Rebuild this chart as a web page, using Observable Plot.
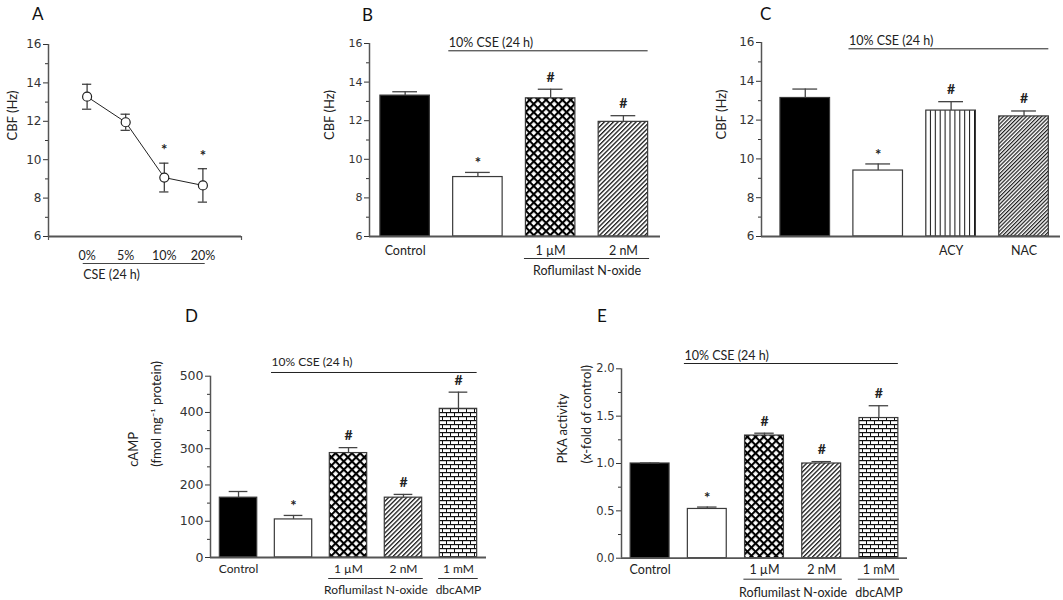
<!DOCTYPE html>
<html><head><meta charset="utf-8">
<script src="https://cdn.jsdelivr.net/npm/d3@7"></script>
<script src="https://cdn.jsdelivr.net/npm/@observablehq/plot@0.6"></script>
<style>
body{margin:0;background:#fff;}
#fig{position:relative;width:1063px;height:600px;overflow:hidden;background:#fff;color:#222;}
.letter{position:absolute;font-family:Lato,'Open Sans',sans-serif;font-size:17px;line-height:1;color:#111;}
</style>
</head><body>
<svg width="0" height="0" style="position:absolute">
 <defs>
  <pattern id="pCross" width="5.8" height="5.8" patternUnits="userSpaceOnUse" patternTransform="rotate(45)">
   <rect width="5.8" height="5.8" fill="#fff"/>
   <rect x="0" y="0" width="5.8" height="2.1" fill="#000"/>
   <rect x="0" y="0" width="2.1" height="5.8" fill="#000"/>
  </pattern>
  <pattern id="pHatch" width="3.2" height="3.2" patternUnits="userSpaceOnUse" patternTransform="rotate(45)">
   <rect width="3.2" height="3.2" fill="#fff"/>
   <rect x="0" y="0" width="1.3" height="3.2" fill="#1a1a1a"/>
  </pattern>
  <pattern id="pHatchDense" width="2.7" height="2.7" patternUnits="userSpaceOnUse" patternTransform="rotate(45)">
   <rect width="2.7" height="2.7" fill="#fff"/>
   <rect x="0" y="0" width="1.2" height="2.7" fill="#1a1a1a"/>
  </pattern>
  <pattern id="pVert" width="4.9" height="10" patternUnits="userSpaceOnUse">
   <rect width="4.9" height="10" fill="#fff"/>
   <rect x="0" y="0" width="1" height="10" fill="#111"/>
  </pattern>
  <pattern id="pBrick" width="8" height="8" patternUnits="userSpaceOnUse">
   <rect width="8" height="8" fill="#fff"/>
   <rect x="0" y="0" width="8" height="1.2" fill="#111"/>
   <rect x="0" y="4" width="8" height="1.2" fill="#111"/>
   <rect x="0" y="0" width="1" height="4" fill="#111"/>
   <rect x="4" y="4" width="1" height="4" fill="#111"/>
  </pattern>
 </defs>
</svg>
<div id="fig"></div>
<script>
// ---------------- data ----------------
// Panel A: CBF vs CSE concentration
const aConc = ["0%", "5%", "10%", "20%"];
const aCBF = [13.28, 11.95, 9.07, 8.66];
const aSEM = [0.65, 0.42, 0.75, 0.87];
const aSig = ["", "", "*", "*"];
const aGroupLabel = "CSE (24 h)";

// Panel B
const bGroup = ["Control", "CSE", "Rof1", "Rof2"];
const bLabel = ["Control", "", "1 µM", "2 nM"];
const bCBF = [13.3, 9.08, 13.16, 11.94];
const bSEM = [0.2, 0.24, 0.47, 0.32];
const bSig = ["", "*", "#", "#"];

// Panel C
const cGroup = ["Control", "CSE", "ACY", "NAC"];
const cLabel = ["", "", "ACY", "NAC"];
const cCBF = [13.14, 9.4, 12.49, 12.19];
const cSEM = [0.46, 0.34, 0.46, 0.28];
const cSig = ["", "*", "#", "#"];

// Panel D
const dGroup = ["Control", "CSE", "Rof1", "Rof2", "dbc"];
const dLabel = ["Control", "", "1 µM", "2 nM", "1 mM"];
const dCAMP = [165, 105, 288, 165, 410];
const dSEM = [17, 11, 15, 9, 46];
const dSig = ["", "*", "#", "#", "#"];

// Panel E
const eGroup = ["Control", "CSE", "Rof1", "Rof2", "dbc"];
const eLabel = ["Control", "", "1 µM", "2 nM", "1 mM"];
const ePKA = [1.0, 0.52, 1.295, 1.0, 1.48];
const eSEM = [0.005, 0.02, 0.025, 0.02, 0.13];
const eSig = ["", "*", "#", "#", "#"];

const cseLabel = "10% CSE (24 h)";
const bUnder = [{label: "Roflumilast N-oxide", from: 2, to: 3}];
const dUnder = [{label: "Roflumilast N-oxide", from: 2, to: 3}, {label: "dbcAMP", from: 4, to: 4}];

const cbfTicks = [6, 8, 10, 12, 14, 16];
const cbfMinor = [7, 9, 11, 13, 15];
const campTicks = [0, 100, 200, 300, 400, 500];
const campMinor = [50, 150, 250, 350, 450];
const pkaTicks = [0, 0.5, 1.0, 1.5, 2.0];
const pkaMinor = [0.25, 0.75, 1.25, 1.75];

// ---------------- styles ----------------
const F = "Lato, 'Open Sans', sans-serif";
const TF = "'DejaVu Sans', Verdana, sans-serif";
const AX = "#555";
const fillOf = {Control: "#000", CSE: "#fff", Rof1: "url(#pCross)", Rof2: "url(#pHatch)",
  ACY: "url(#pVert)", NAC: "url(#pHatchDense)", dbc: "url(#pBrick)"};
const HW = 0.34, CAP = 0.17;

const fig = document.getElementById("fig");
function place(svg, left, top) {
  svg.style.position = "absolute";
  svg.style.left = left + "px";
  svg.style.top = top + "px";
  svg.style.overflow = "visible";
  fig.appendChild(svg);
}
function letter(t, left, top) {
  const d = document.createElement("div");
  d.className = "letter"; d.textContent = t;
  d.style.left = left + "px"; d.style.top = top + "px";
  fig.appendChild(d);
}

function axes(o) {
  return [
    Plot.axisY({ticks: o.major, tickSize: 5, tickPadding: 2, tickFormat: o.fmt, fontSize: o.tickFont,
      fontFamily: TF, label: null, color: "#333"}),
    Plot.axisY({ticks: o.minor, tickSize: 3, tickFormat: () => "", label: null, color: "#333"}),
    Plot.ruleX([o.xDomain[0]], {stroke: AX, strokeWidth: 1.5}),
    Plot.ruleY([o.yDomain[0]], {stroke: AX, strokeWidth: 1.8})
  ];
}

function barPanel(o) {
  const rows = o.values.map((v, i) => ({i, v, e: o.sem[i], g: o.groups[i], lab: o.labels[i], sig: o.sig[i]}));
  const y0 = o.yDomain[0], y1 = o.yDomain[1];
  const last = rows.length - 1;
  const marks = [
    Plot.rect(rows, {x1: d => d.i - HW, x2: d => d.i + HW, y1: y0, y2: "v",
      fill: d => fillOf[d.g], stroke: "#3a3a3a", strokeWidth: 1.2}),
    Plot.ruleX(rows, {x: "i", y1: "v", y2: d => d.v + d.e, stroke: "#444", strokeWidth: 1.3}),
    Plot.ruleY(rows, {y: d => d.v + d.e, x1: d => d.i - CAP, x2: d => d.i + CAP, stroke: "#444", strokeWidth: 1.3}),
    Plot.text(rows.filter(d => d.sig === "#"), {x: "i", y: d => d.v + d.e, text: "sig", dy: -12,
      fontSize: 14, fontWeight: "bold", fontFamily: F}),
    Plot.text(rows.filter(d => d.sig === "*"), {x: "i", y: d => d.v + d.e, text: "sig", dy: -9,
      fontSize: 15, fontWeight: "bold", fontFamily: F}),
    ...axes(o),
    Plot.text(rows.filter(d => d.lab), {x: "i", y: y0, text: "lab", dy: o.labDy, fontSize: o.labFont, fontFamily: F}),
    Plot.ruleY([y1], {x1: 0.6, x2: last + 0.34, dy: o.cseLineDy, stroke: "#222", strokeWidth: 1}),
    Plot.text([cseLabel], {x: 0.6, y: y1, text: d => d, textAnchor: "start", dy: o.cseTextDy,
      fontSize: o.labFont, fontFamily: F})
  ];
  if (o.under) {
    marks.push(
      Plot.ruleY(o.under, {y: y0, x1: d => d.from - 0.36, x2: d => d.to + 0.36, dy: o.underDy, stroke: "#333", strokeWidth: 1}),
      Plot.text(o.under, {x: d => (d.from + d.to) / 2, y: y0, text: "label", dy: o.groupDy,
        fontSize: o.labFont, fontFamily: F})
    );
  }
  o.ylab.forEach(l => marks.push(
    Plot.text([l.text], {frameAnchor: "left", rotate: -90, dx: l.dx, text: d => d, fontSize: 13, fontFamily: F})
  ));
  const svg = Plot.plot({
    width: o.width, height: o.height,
    marginLeft: o.m[0], marginRight: o.m[1], marginTop: o.m[2], marginBottom: o.m[3],
    x: {domain: o.xDomain, axis: null},
    y: {domain: o.yDomain, axis: null},
    color: {type: "identity"},
    style: {background: "transparent", color: "#222", fontFamily: F, overflow: "visible"},
    marks
  });
  place(svg, o.left, o.top);
}

// ---------------- Panel A ----------------
(function () {
  const rows = aCBF.map((v, i) => ({i, v, e: aSEM[i], lab: aConc[i], sig: aSig[i]}));
  const y0 = 6;
  const o = {xDomain: [-1, 4], yDomain: [6, 16], major: cbfTicks, minor: cbfMinor, fmt: d3.format("d"), tickFont: 12};
  const svg = Plot.plot({
    width: 260, height: 290, marginLeft: 48, marginRight: 19, marginTop: 44, marginBottom: 54,
    x: {domain: o.xDomain, axis: null},
    y: {domain: o.yDomain, axis: null},
    style: {background: "transparent", color: "#222", fontFamily: F, overflow: "visible"},
    marks: [
      ...axes(o),
      Plot.ruleX([-1, 4], {y1: y0, y2: y0, insetBottom: -4, stroke: AX, strokeWidth: 1.2}),
      Plot.ruleX(rows, {x: "i", y1: d => d.v - d.e, y2: d => d.v + d.e, stroke: "#333", strokeWidth: 1.2}),
      Plot.ruleY(rows, {y: d => d.v + d.e, x1: d => d.i - 0.12, x2: d => d.i + 0.12, stroke: "#333", strokeWidth: 1.2}),
      Plot.ruleY(rows, {y: d => d.v - d.e, x1: d => d.i - 0.12, x2: d => d.i + 0.12, stroke: "#333", strokeWidth: 1.2}),
      Plot.line(rows, {x: "i", y: "v", stroke: "#222", strokeWidth: 1}),
      Plot.dot(rows, {x: "i", y: "v", r: 4.5, fill: "#fff", stroke: "#222", strokeWidth: 1.2}),
      Plot.text(rows.filter(d => d.sig), {x: "i", y: d => d.v + d.e, text: "sig", dy: -13, fontSize: 15, fontWeight: "bold", fontFamily: F}),
      Plot.text(rows, {x: "i", y: y0, text: "lab", dy: 19, fontSize: 12.5, fontFamily: F}),
      Plot.ruleY([y0], {x1: -0.1, x2: 3.06, dy: 27, stroke: "#444", strokeWidth: 1}),
      Plot.text([aGroupLabel], {x: -0.1, y: y0, text: d => d, textAnchor: "start", dy: 38, fontSize: 12.5, fontFamily: F}),
      Plot.text(["CBF (Hz)"], {frameAnchor: "left", rotate: -90, dx: -36, text: d => d, fontSize: 13, fontFamily: F})
    ]
  });
  place(svg, 0, 0);
})();

// ---------------- Panel B ----------------
barPanel({
  left: 300, top: 0, width: 370, height: 290, m: [69, 10, 43, 54],
  xDomain: [-0.49, 3.51], yDomain: [6, 16], major: cbfTicks, minor: cbfMinor, fmt: d3.format("d"), tickFont: 11,
  values: bCBF, sem: bSEM, groups: bGroup, labels: bLabel, sig: bSig,
  labDy: 14, labFont: 12.5, cseLineDy: 7.3, cseTextDy: -1, under: bUnder, underDy: 22, groupDy: 34,
  ylab: [{text: "CBF (Hz)", dx: -40}]
});

// ---------------- Panel C ----------------
barPanel({
  left: 680, top: 0, width: 383, height: 290, m: [81, 3, 42, 54],
  xDomain: [-0.6, 3.5], yDomain: [6, 16], major: cbfTicks, minor: cbfMinor, fmt: d3.format("d"), tickFont: 12,
  values: cCBF, sem: cSEM, groups: cGroup, labels: cLabel, sig: cSig,
  labDy: 14, labFont: 12.5, cseLineDy: 6.3, cseTextDy: -2,
  ylab: [{text: "CBF (Hz)", dx: -40}]
});

// ---------------- Panel D ----------------
barPanel({
  left: 110, top: 300, width: 390, height: 300, m: [100, 14, 75.7, 43],
  xDomain: [-0.51, 4.51], yDomain: [0, 500], major: campTicks, minor: campMinor, fmt: d3.format("d"), tickFont: 12.5,
  values: dCAMP, sem: dSEM, groups: dGroup, labels: dLabel, sig: dSig,
  labDy: 12, labFont: 12, cseLineDy: -3.7, cseTextDy: -14.5, under: dUnder, underDy: 21, groupDy: 33,
  ylab: [{text: "cAMP", dx: -77}, {text: "(fmol mg\u207B\u00B9 protein)", dx: -54}]
});

// ---------------- Panel E ----------------
barPanel({
  left: 530, top: 300, width: 400, height: 300, m: [91, 23, 68.3, 42.3],
  xDomain: [-0.5, 4.5], yDomain: [0, 2], major: pkaTicks, minor: pkaMinor, fmt: d3.format(".1f"), tickFont: 11.5,
  values: ePKA, sem: eSEM, groups: eGroup, labels: eLabel, sig: eSig,
  labDy: 11.5, labFont: 12.5, cseLineDy: -5.3, cseTextDy: -13, under: dUnder, underDy: 21, groupDy: 35,
  ylab: [{text: "PKA activity", dx: -59}, {text: "(x-fold of control)", dx: -35}]
});

letter("A", 32, 5);
letter("B", 362, 6);
letter("C", 760, 5);
letter("D", 185, 307);
letter("E", 597, 307);
</script>
</body></html>
